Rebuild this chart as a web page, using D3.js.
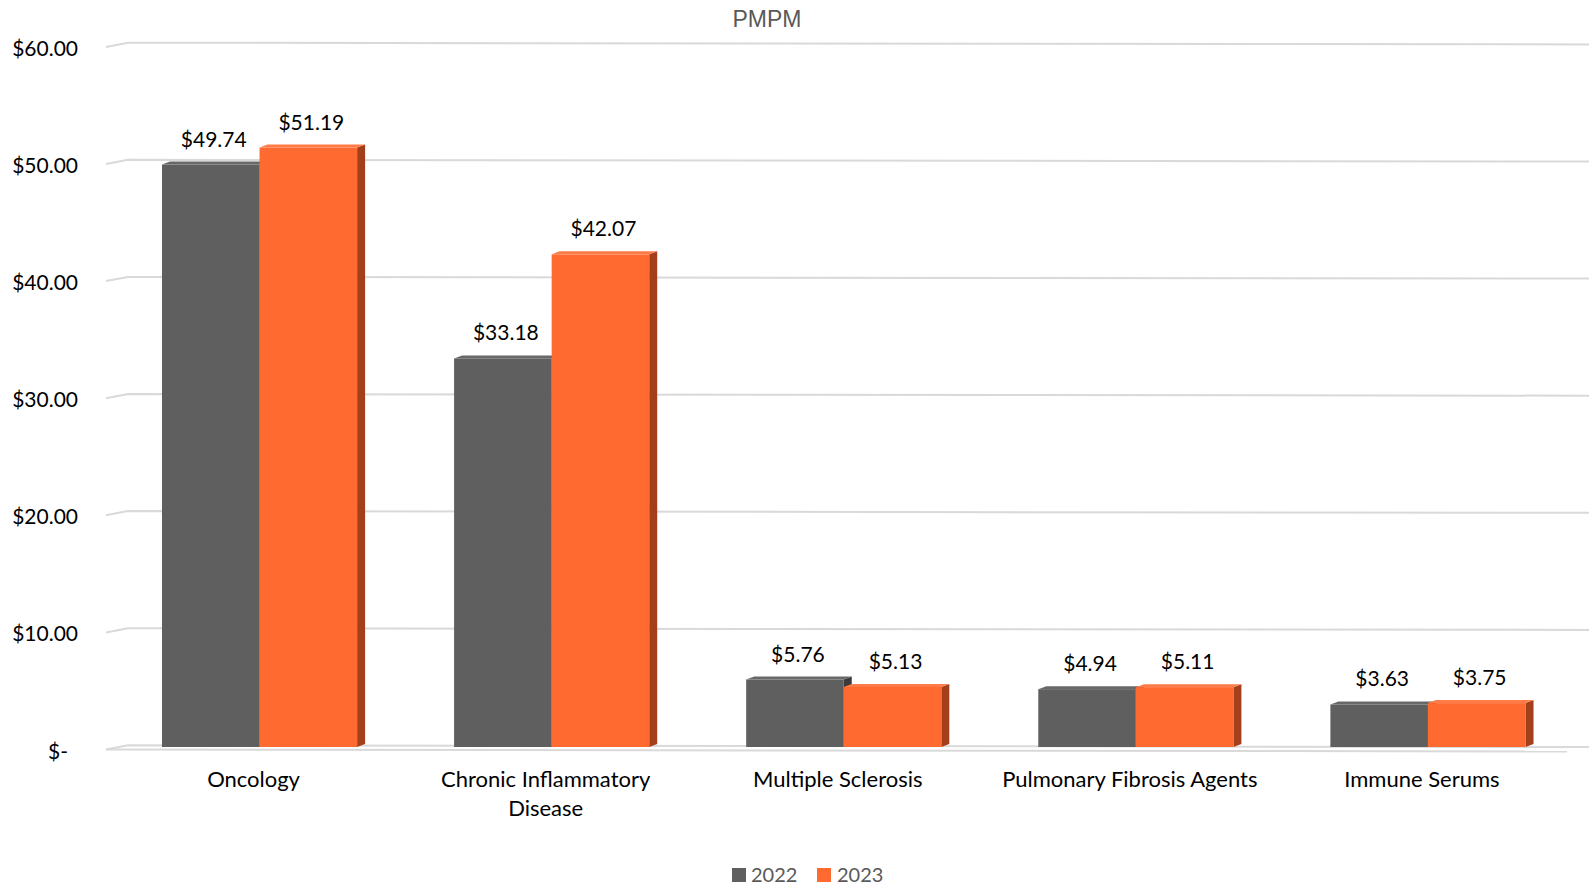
<!DOCTYPE html>
<html>
<head>
<meta charset="utf-8">
<script src="https://cdn.jsdelivr.net/npm/d3@7"></script>
<style>
  html, body { margin: 0; padding: 0; background: #ffffff; }
  svg { display: block; }
</style>
</head>
<body>
<svg id="chart" width="1589" height="886"></svg>
<script>
// PMPM by therapy class, 2022 vs 2023
const categories = [
  ["Oncology"],
  ["Chronic Inflammatory", "Disease"],
  ["Multiple Sclerosis"],
  ["Pulmonary Fibrosis Agents"],
  ["Immune Serums"]
];
const seriesNames = ["2022", "2023"];
const values2022 = [49.74, 33.18, 5.76, 4.94, 3.63];
const values2023 = [51.19, 42.07, 5.13, 5.11, 3.75];
const yTicks = [0, 10, 20, 30, 40, 50, 60];
const title = "PMPM";

const W = 1589, H = 886;
const svg = d3.select("#chart");

const frontColors = { "2022": "#5f5f5f", "2023": "#ff6a30" };
const topColors   = { "2022": "#686868", "2023": "#ff7b48" };
const sideColors  = { "2022": "#3b3b3b", "2023": "#a33f1b" };

const catKeys = categories.map(c => c.join(" "));
const x = d3.scaleBand().domain(catKeys).range([113.5, 1574]).paddingInner(0.332).paddingOuter(0.166);
const xs = d3.scaleBand().domain(seriesNames).range([0, x.bandwidth()]);
const y = d3.scaleLinear().domain([0, 60]).range([747, 44.4]);

const depthX = 8, depthY = 3;
const wallLeft = 128, frontLeft = 106;

// gridlines with a slight perspective: short front stub, then the back wall line
const grid = svg.append("g");
yTicks.forEach(t => {
  const yy = y(t);
  grid.append("path")
    .attr("d", `M${frontLeft},${yy + 2.5} L${wallLeft},${yy - 1.7} L${W},${yy}`)
    .attr("fill", "none").attr("stroke", "#d9d9d9").attr("stroke-width", 2);
});
// front edge of the floor
grid.append("line")
  .attr("x1", frontLeft).attr("y1", y(0) + 2.5)
  .attr("x2", 1567).attr("y2", y(0) + 4.5)
  .attr("stroke", "#d9d9d9").attr("stroke-width", 2);

// y axis labels
const yAxis = d3.axisLeft(y).tickValues(yTicks)
  .tickFormat(d => d === 0 ? "$-" : d3.format("$,.2f")(d))
  .tickSize(0);
const yg = svg.append("g").attr("transform", "translate(78,0)").call(yAxis);
yg.select(".domain").remove();
yg.selectAll("text")
  .attr("font-family", "Lato, sans-serif").attr("font-size", 21)
  .attr("fill", "#000").attr("x", 0)
  .attr("dy", null).attr("y", 11)
  .attr("dx", d => d === 0 ? -10 : 0);

// bars
const rows = catKeys.map((k, i) => ({ key: k, vals: [values2022[i], values2023[i]] }));
const groups = svg.append("g").selectAll("g").data(rows).join("g")
  .attr("transform", d => `translate(${x(d.key)},0)`);

groups.each(function(row) {
  const g = d3.select(this);
  seriesNames.forEach((s, j) => {
    const v = row.vals[j];
    const x0 = xs(s), x1 = xs(s) + xs.bandwidth();
    const yt = y(v), yb = y(0);
    g.append("polygon")
      .attr("points", [[x1, yt], [x1 + depthX, yt - depthY], [x1 + depthX, yb - depthY], [x1, yb]].join(" "))
      .attr("fill", sideColors[s]);
    g.append("polygon")
      .attr("points", [[x0, yt], [x0 + depthX, yt - depthY], [x1 + depthX, yt - depthY], [x1, yt]].join(" "))
      .attr("fill", topColors[s]);
    g.append("rect")
      .attr("x", x0).attr("y", yt).attr("width", x1 - x0).attr("height", yb - yt)
      .attr("fill", frontColors[s]);
  });
  // value labels
  seriesNames.forEach((s, j) => {
    const v = row.vals[j];
    g.append("text")
      .attr("x", xs(s) + xs.bandwidth() / 2 + depthX / 2 - 1)
      .attr("y", y(v) - 18)
      .attr("text-anchor", "middle")
      .attr("font-family", "Lato, sans-serif").attr("font-size", 21)
      .attr("fill", "#000")
      .text(d3.format("$.2f")(v));
  });
});

// category labels
const xl = svg.append("g");
categories.forEach((lines, i) => {
  const cx = x(catKeys[i]) + x.bandwidth() / 2 - 6;
  const t = xl.append("text")
    .attr("text-anchor", "middle")
    .attr("font-family", "Lato, sans-serif").attr("font-size", 22)
    .attr("fill", "#000");
  lines.forEach((ln, k) => {
    t.append("tspan").attr("x", cx).attr("y", 787 + k * 28.6).text(ln);
  });
});

// title
svg.append("text")
  .attr("x", 767).attr("y", 27)
  .attr("text-anchor", "middle")
  .attr("font-family", "'Liberation Sans', Arial, sans-serif").attr("font-size", 23)
  .attr("fill", "#595959")
  .text(title);

// legend
const legendPos = [{ sx: 732, tx: 751 }, { sx: 817, tx: 837 }];
const lg = svg.append("g");
seriesNames.forEach((s, j) => {
  lg.append("rect").attr("x", legendPos[j].sx).attr("y", 868).attr("width", 14).attr("height", 14)
    .attr("fill", frontColors[s]);
  lg.append("text").attr("x", legendPos[j].tx).attr("y", 882)
    .attr("font-family", "Lato, sans-serif").attr("font-size", 20)
    .attr("fill", "#595959").text(s);
});
</script>
</body>
</html>
